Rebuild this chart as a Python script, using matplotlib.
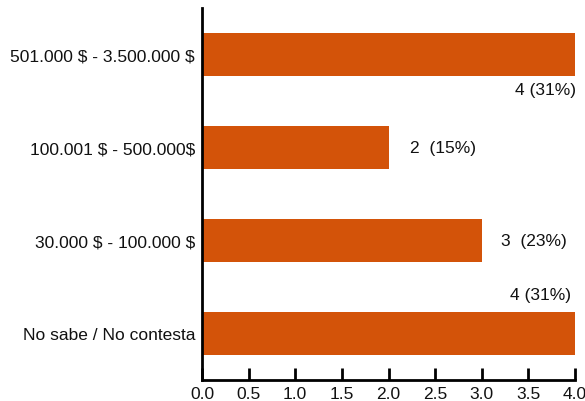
import matplotlib
matplotlib.use("Agg")
import matplotlib.pyplot as plt

plt.rcParams['font.family'] = ['Liberation Sans', 'DejaVu Sans']
plt.rcParams['text.parse_math'] = False

categories = ["501.000 $ - 3.500.000 $", "100.001 $ - 500.000$", "30.000 $ - 100.000 $", "No sabe / No contesta"]
values = [4, 2, 3, 4]
labels = ["4 (31%)", "2  (15%)", "3  (23%)", "4 (31%)"]
xticks = [0.0, 0.5, 1.0, 1.5, 2.0, 2.5, 3.0, 3.5, 4.0]

fig = plt.figure(figsize=(5.85, 4.02), dpi=100)
ax = fig.add_axes([202/585, 21/402, 373/585, 372/402])

ypos = list(range(len(categories)))[::-1]
ax.barh(ypos, values, height=0.46, color='#d35309', edgecolor='none')

ax.set_xlim(0, 4)
ax.set_ylim(-0.5, 3.5)
ax.set_yticks(ypos)
ax.set_yticklabels(categories, fontsize=12.5, color='#111111')
ax.set_xticks(xticks)
ax.set_xticklabels([f"{t:.1f}" for t in xticks], fontsize=12.5, color='#111111')
ax.tick_params(axis='y', length=0, pad=5)
ax.tick_params(axis='x', direction='in', length=9, width=2, pad=4)

for s in ['top', 'right']:
    ax.spines[s].set_visible(False)
for s in ['left', 'bottom']:
    ax.spines[s].set_linewidth(2)

offsets = [(1, -35, 'right'), (21, 0, 'left'), (19, 0, 'left'), (-4, 39, 'right')]
for y, v, lab, (dx, dy, ha) in zip(ypos, values, labels, offsets):
    ax.annotate(lab, (v, y), xytext=(dx, dy), textcoords='offset pixels',
                ha=ha, va='center', fontsize=12.5, color='#111111')

fig.savefig("out.png", dpi=100)
